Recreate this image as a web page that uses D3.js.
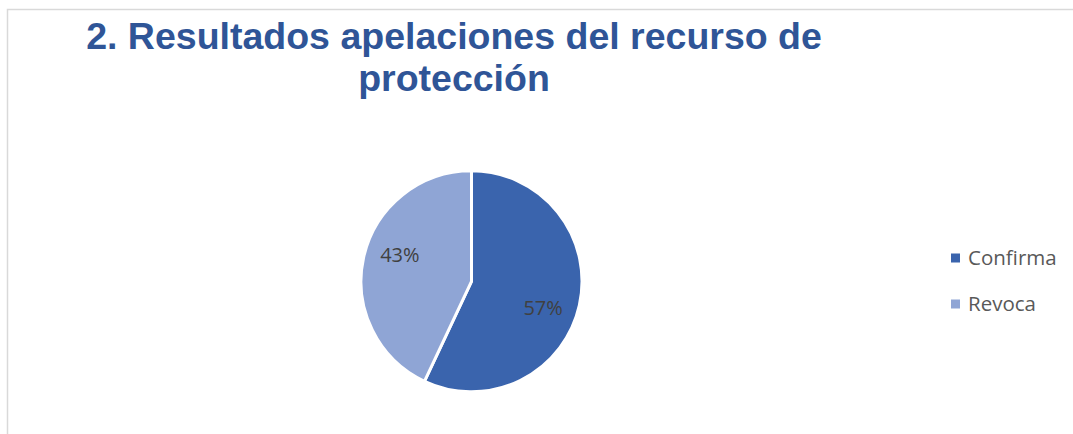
<!DOCTYPE html>
<html><head><meta charset="utf-8">
<script src="https://cdn.jsdelivr.net/npm/d3@7"></script>
<style>body{margin:0;background:#fff}svg{display:block}</style>
</head><body><svg id="c" width="1073" height="434"></svg>
<script>
const categories = ["Confirma", "Revoca"];
const values = [57, 43];
const labels = ["57%", "43%"];
const colors = ["#3A64AD", "#8FA5D5"];
const titleLines = ["2. Resultados apelaciones del recurso de", "protección"];

const svg = d3.select("#c");
// chart frame
svg.append("rect").attr("x", 7.5).attr("y", 9.5).attr("width", 1080).attr("height", 440)
  .attr("fill", "#fff").attr("stroke", "#d9d9d9").attr("stroke-width", 1.5);

// title
const title = svg.append("text").attr("text-anchor", "middle")
  .attr("font-family", "Liberation Sans, Arial, sans-serif").attr("font-weight", "bold")
  .attr("font-size", 37.5).attr("fill", "#2F5597");
titleLines.forEach((t, i) => title.append("tspan").attr("x", 454).attr("y", 49 + i * 42).text(t));

// pie
const cx = 471.5, cy = 281.3, r = 110.5;
const pie = d3.pie().sort(null).value(d => d)(values);
const arc = d3.arc().innerRadius(0).outerRadius(r);
const g = svg.append("g").attr("transform", `translate(${cx},${cy})`);
g.selectAll("path").data(pie).join("path")
  .attr("d", arc).attr("fill", (d, i) => colors[i])
  .attr("stroke", "#fff").attr("stroke-width", 3).attr("stroke-linejoin", "round");

// data labels (Excel best-fit placement, slightly rotated from the slice mid-angle)
const labelR = r * 0.69, labelShift = 0.13;
g.selectAll("text").data(pie).join("text")
  .attr("transform", d => {
    const a = (d.startAngle + d.endAngle) / 2 + labelShift;
    return `translate(${labelR * Math.sin(a)},${-labelR * Math.cos(a)})`;
  })
  .attr("text-anchor", "middle").attr("dy", "0.36em")
  .attr("font-family", "Open Sans, sans-serif").attr("font-size", 20).attr("fill", "#404040")
  .text((d, i) => labels[i]);

// legend
const lg = svg.append("g").attr("transform", "translate(951,258)");
const items = lg.selectAll("g").data(categories).join("g")
  .attr("transform", (d, i) => `translate(0,${i * 46})`);
items.append("rect").attr("x", 0).attr("y", -4.5).attr("width", 9).attr("height", 9)
  .attr("fill", (d, i) => colors[i]);
items.append("text").attr("x", 17).attr("dy", "0.36em")
  .attr("font-family", "Open Sans, sans-serif").attr("font-size", 20.5).attr("fill", "#595959")
  .text(d => d);
</script></body></html>
